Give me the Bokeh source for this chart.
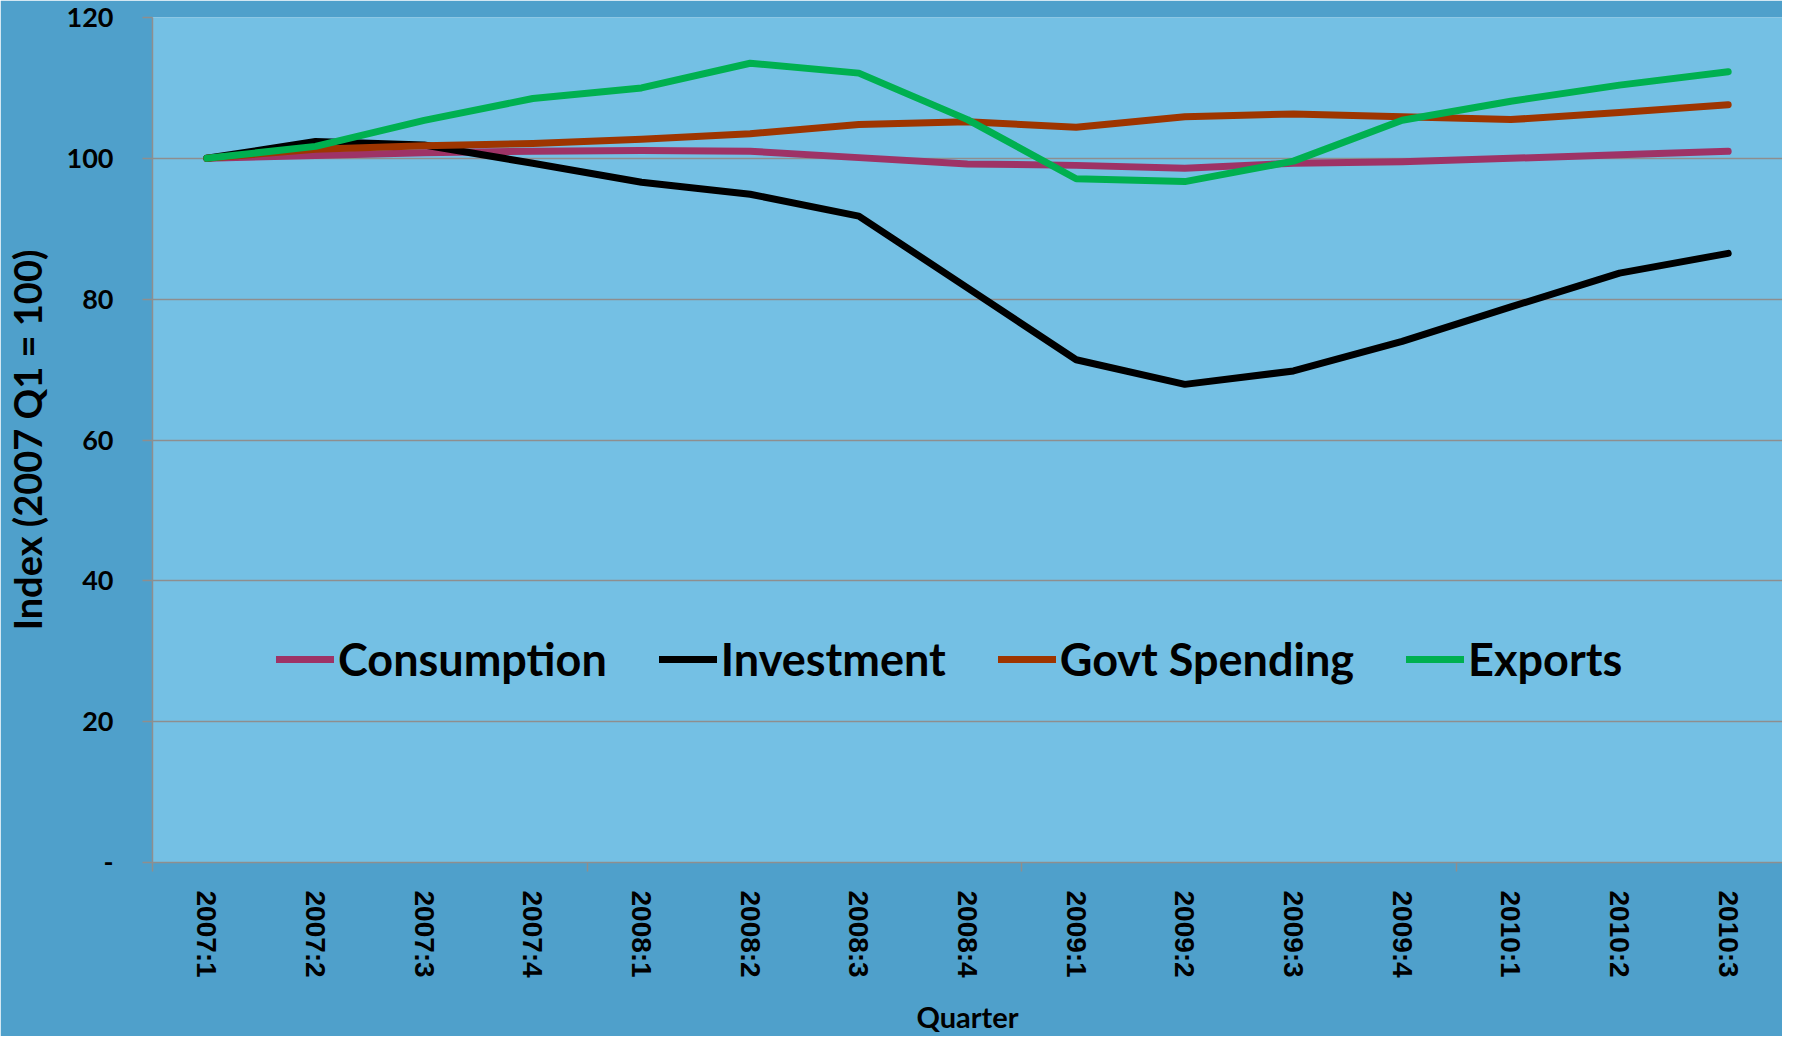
from bokeh.plotting import figure
from bokeh.models import Range1d, FixedTicker, Legend, LegendItem
from bokeh.embed import file_html
from bokeh.resources import INLINE

quarters = ["2007:1", "2007:2", "2007:3", "2007:4", "2008:1", "2008:2", "2008:3", "2008:4",
            "2009:1", "2009:2", "2009:3", "2009:4", "2010:1", "2010:2", "2010:3"]
consumption = [100.0, 100.4, 100.8, 101.0, 101.1, 101.0, 100.1, 99.2, 99.0, 98.6, 99.3, 99.5, 100.0, 100.5, 101.0]
investment = [100.0, 102.4, 101.9, 99.3, 96.6, 94.9, 91.8, 81.6, 71.4, 67.9, 69.8, 74.0, 78.9, 83.7, 86.5]
govt_spending = [100.0, 101.3, 101.8, 102.1, 102.7, 103.5, 104.8, 105.2, 104.4, 105.9, 106.3, 105.9, 105.5, 106.5, 107.6]
exports = [100.0, 101.7, 105.4, 108.5, 110.0, 113.5, 112.1, 105.5, 97.1, 96.7, 99.6, 105.4, 108.1, 110.4, 112.3]
y_ticks = [0, 20, 40, 60, 80, 100, 120]
y_tick_labels = ["-", "20", "40", "60", "80", "100", "120"]

series = [("Consumption", consumption, "#9E3366"),
          ("Investment", investment, "#000000"),
          ("Govt Spending", govt_spending, "#9E3500"),
          ("Exports", exports, "#00B050")]

n = len(quarters)
xs = [i + 0.5 for i in range(n)]

p = figure(width=1782, height=1036, output_backend="svg", toolbar_location=None,
           x_range=Range1d(0, n), y_range=Range1d(0, 120),
           min_border_left=146, min_border_right=0, min_border_top=17, min_border_bottom=170)

p.background_fill_color = "#74C0E4"
p.border_fill_color = "#4FA0CB"
p.outline_line_color = None

# grid
p.xgrid.grid_line_color = None
p.ygrid.grid_line_color = "#8E8E8E"
p.ygrid.grid_line_width = 1.5

# y axis
p.yaxis.ticker = FixedTicker(ticks=y_ticks)
p.yaxis.major_label_overrides = {t: l for t, l in zip(y_ticks, y_tick_labels)}
p.yaxis.axis_line_color = "#8E8E8E"
p.yaxis.axis_line_width = 1.5
p.yaxis.major_tick_line_color = "#8E8E8E"
p.yaxis.major_tick_line_width = 1.5
p.yaxis.major_tick_out = 10
p.yaxis.major_tick_in = 0
p.yaxis.minor_tick_line_color = None
p.yaxis.major_label_standoff = 29
p.yaxis.major_label_text_font = "Lato"
p.yaxis.major_label_text_font_style = "bold"
p.yaxis.major_label_text_font_size = "27px"
p.yaxis.major_label_text_color = "#000000"
p.yaxis.axis_label = "Index (2007 Q1 = 100)"
p.yaxis.axis_label_text_font = "Lato"
p.yaxis.axis_label_text_font_style = "bold"
p.yaxis.axis_label_text_font_size = "38px"
p.yaxis.axis_label_text_color = "#000000"
p.yaxis.axis_label_standoff = 14

# x axis
p.xaxis.ticker = FixedTicker(ticks=xs, minor_ticks=[0, 4, 8, 12])
p.xaxis.major_label_overrides = {x: q for x, q in zip(xs, quarters)}
p.xaxis.major_label_orientation = "vertical"
p.xaxis.axis_line_color = "#8E8E8E"
p.xaxis.axis_line_width = 1.5
p.xaxis.major_tick_line_color = None
p.xaxis.major_tick_out = 0
p.xaxis.major_tick_in = 0
p.xaxis.minor_tick_line_color = "#8E8E8E"
p.xaxis.minor_tick_line_width = 1.5
p.xaxis.minor_tick_out = 9
p.xaxis.minor_tick_in = 0
p.xaxis.major_label_standoff = 19
p.xaxis.major_label_text_font = "Liberation Sans"
p.xaxis.major_label_text_font_style = "bold"
p.xaxis.major_label_text_font_size = "28px"
p.xaxis.major_label_text_color = "#000000"
p.xaxis.axis_label = "Quarter"
p.xaxis.axis_label_text_font = "Lato"
p.xaxis.axis_label_text_font_style = "bold"
p.xaxis.axis_label_text_font_size = "29px"
p.xaxis.axis_label_text_color = "#000000"
p.xaxis.axis_label_standoff = 18

items = []
for name, vals, color in series:
    r = p.line(xs, vals, line_color=color, line_width=7, line_cap="round", line_join="round")
    items.append(LegendItem(label=name, renderers=[r]))

legend = Legend(items=items, orientation="horizontal", location=(124, 176))
legend.background_fill_alpha = 0
legend.border_line_alpha = 0
legend.label_text_font = "Lato"
legend.label_text_font_style = "bold"
legend.label_text_font_size = "45px"
legend.label_text_color = "#000000"
legend.glyph_width = 58
legend.glyph_height = 40
legend.label_standoff = 4
legend.spacing = 52
legend.padding = 0
legend.margin = 0
p.add_layout(legend, "center")

open("out.html", "w").write(file_html(p, INLINE))
